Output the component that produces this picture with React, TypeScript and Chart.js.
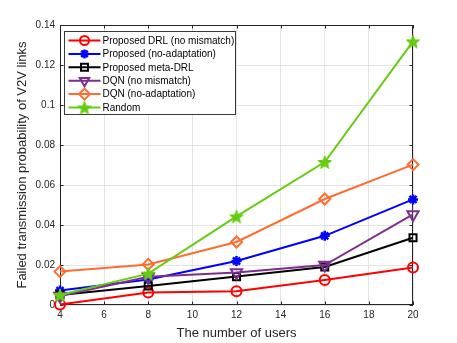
import React, { useEffect, useRef } from 'react';
import { Chart, registerables } from 'chart.js';

Chart.register(...registerables);

// ---------- data ----------
const users = [4, 8, 12, 16, 20];
const xTickLabels = ['4', '6', '8', '10', '12', '14', '16', '18', '20'];
const yTickLabels = ['0', '0.02', '0.04', '0.06', '0.08', '0.1', '0.12', '0.14'];

const proposedDRL = [0.0003, 0.0063, 0.0069, 0.0125, 0.0188];
const proposedNoAdapt = [0.0072, 0.0128, 0.0220, 0.0346, 0.0528];
const proposedMetaDRL = [0.0050, 0.0095, 0.0142, 0.0190, 0.0336];
const dqnNoMismatch = [0.0045, 0.0141, 0.0162, 0.0200, 0.0453];
const dqnNoAdapt = [0.0167, 0.0203, 0.0315, 0.0530, 0.0702];
const randomPolicy = [0.0050, 0.0157, 0.0443, 0.0715, 0.1318];

const seriesLabels = [
  'Proposed DRL (no mismatch)',
  'Proposed (no-adaptation)',
  'Proposed meta-DRL',
  'DQN (no mismatch)',
  'DQN (no-adaptation)',
  'Random',
];
const seriesValues = [proposedDRL, proposedNoAdapt, proposedMetaDRL, dqnNoMismatch, dqnNoAdapt, randomPolicy];

const xTitle = 'The number of users';
const yTitle = 'Failed transmission probability of V2V links';

// ---------- styles ----------
const seriesColors = ['#ff0000', '#0000ff', '#000000', '#7e2f8e', '#ff6d2e', '#66cc11'];
const seriesMarkers = ['circle', 'asterisk', 'square', 'triangleDown', 'diamond', 'pentagram'];
const FONT = "'Liberation Sans', Arial, Helvetica, sans-serif";
const AXIS_COLOR = '#262626';
const GRID_COLOR = '#e3e3e3';

function makePentagram(color: string, r: number): HTMLCanvasElement {
  const c = document.createElement('canvas');
  const s = Math.ceil(r * 2 + 2);
  c.width = s;
  c.height = s;
  const ctx = c.getContext('2d')!;
  ctx.translate(s / 2, s / 2 + 0.8);
  ctx.beginPath();
  for (let i = 0; i < 10; i++) {
    const rad = i % 2 === 0 ? r : r * 0.42;
    const a = -Math.PI / 2 + (i * Math.PI) / 5;
    ctx.lineTo(rad * Math.cos(a), rad * Math.sin(a));
  }
  ctx.closePath();
  ctx.fillStyle = color;
  ctx.fill();
  ctx.strokeStyle = color;
  ctx.lineWidth = 1;
  ctx.stroke();
  return c;
}

function drawMarker(ctx: CanvasRenderingContext2D, kind: string, x: number, y: number, color: string, star: HTMLCanvasElement) {
  ctx.save();
  ctx.strokeStyle = color;
  ctx.fillStyle = color;
  ctx.lineWidth = 2;
  ctx.beginPath();
  if (kind === 'circle') {
    ctx.arc(x, y, 4.5, 0, Math.PI * 2);
    ctx.stroke();
  } else if (kind === 'asterisk') {
    const r = 4.5;
    ctx.lineWidth = 2.5;
    for (let i = 0; i < 4; i++) {
      const a = (i * Math.PI) / 4;
      ctx.moveTo(x - r * Math.cos(a), y - r * Math.sin(a));
      ctx.lineTo(x + r * Math.cos(a), y + r * Math.sin(a));
    }
    ctx.stroke();
  } else if (kind === 'square') {
    ctx.rect(x - 3.5, y - 3.5, 7, 7);
    ctx.stroke();
  } else if (kind === 'triangleDown') {
    const r = 5.5;
    for (let i = 0; i < 3; i++) {
      const a = Math.PI / 2 + (i * 2 * Math.PI) / 3;
      ctx.lineTo(x + r * Math.cos(a), y + r * Math.sin(a));
    }
    ctx.closePath();
    ctx.stroke();
  } else if (kind === 'diamond') {
    const r = 5.5;
    ctx.moveTo(x, y - r);
    ctx.lineTo(x + r, y);
    ctx.lineTo(x, y + r);
    ctx.lineTo(x - r, y);
    ctx.closePath();
    ctx.stroke();
  } else if (kind === 'pentagram') {
    ctx.drawImage(star, x - star.width / 2, y - star.height / 2);
  }
  ctx.restore();
}

export default function App() {
  const canvasRef = useRef<HTMLCanvasElement | null>(null);

  useEffect(() => {
    const canvas = canvasRef.current;
    if (!canvas) return;
    const star = makePentagram(seriesColors[5], 7);

    const pointProps: Record<string, any> = {
      circle: { pointStyle: 'circle', pointRadius: 5, pointRotation: 0 },
      asterisk: { pointStyle: 'star', pointRadius: 5, pointRotation: 0 },
      square: { pointStyle: 'rect', pointRadius: 5, pointRotation: 0 },
      triangleDown: { pointStyle: 'triangle', pointRadius: 6.5, pointRotation: 180 },
      diamond: { pointStyle: 'rectRot', pointRadius: 5.5, pointRotation: 0 },
      pentagram: { pointStyle: star, pointRadius: 7, pointRotation: 0 },
    };

    const datasets = seriesValues.map((vals, i) => {
      const m = seriesMarkers[i];
      return {
        label: seriesLabels[i],
        data: users.map((u, j) => ({ x: u, y: vals[j] })),
        borderColor: seriesColors[i],
        backgroundColor: 'rgba(0,0,0,0)',
        pointBorderColor: seriesColors[i],
        pointBackgroundColor: 'rgba(0,0,0,0)',
        borderWidth: 2,
        pointBorderWidth: m === 'asterisk' ? 2.5 : 2,
        tension: 0,
        clip: false as any,
        order: seriesValues.length - i,
        ...pointProps[m],
      };
    });

    const framePlugin = {
      id: 'matlabFrame',
      beforeDatasetsDraw(chart: any) {
        const { ctx, chartArea: a, scales } = chart;
        ctx.save();
        ctx.strokeStyle = AXIS_COLOR;
        ctx.lineWidth = 1;
        ctx.strokeRect(a.left + 0.5, a.top + 0.5, a.right - a.left - 1, a.bottom - a.top - 1);
        const tl = 3.5;
        ctx.beginPath();
        scales.y.ticks.forEach((t: any) => {
          const py = Math.round(scales.y.getPixelForValue(t.value)) + 0.5;
          ctx.moveTo(a.left, py);
          ctx.lineTo(a.left + tl, py);
          ctx.moveTo(a.right, py);
          ctx.lineTo(a.right - tl, py);
        });
        scales.x.ticks.forEach((t: any) => {
          const px = Math.round(scales.x.getPixelForValue(t.value)) + 0.5;
          ctx.moveTo(px, a.bottom);
          ctx.lineTo(px, a.bottom - tl);
          ctx.moveTo(px, a.top);
          ctx.lineTo(px, a.top + tl);
        });
        ctx.stroke();
        ctx.restore();
      },
      afterDraw(chart: any) {
        const { ctx, chartArea: a } = chart;
        const bx = a.left + 4.5;
        const by = a.top + 6.5;
        const bw = 171;
        const bh = 83;
        ctx.save();
        ctx.fillStyle = '#ffffff';
        ctx.fillRect(bx, by, bw, bh);
        ctx.strokeStyle = '#3a3a3a';
        ctx.lineWidth = 1;
        ctx.strokeRect(bx, by, bw, bh);
        ctx.font = `10px ${FONT}`;
        ctx.textBaseline = 'middle';
        ctx.textAlign = 'left';
        seriesLabels.forEach((lab, i) => {
          const ry = by + 9 + i * 13.4;
          const x0 = bx + 4;
          const x1 = bx + 36;
          ctx.strokeStyle = seriesColors[i];
          ctx.lineWidth = 2;
          ctx.beginPath();
          ctx.moveTo(x0, ry);
          ctx.lineTo(x1, ry);
          ctx.stroke();
          drawMarker(ctx, seriesMarkers[i], (x0 + x1) / 2, ry, seriesColors[i], star);
          ctx.fillStyle = '#000000';
          ctx.fillText(lab, x1 + 2, ry + 0.5);
        });
        ctx.restore();
      },
    };

    const chart = new Chart(canvas, {
      type: 'line',
      data: { datasets },
      options: {
        animation: false,
        responsive: false,
        devicePixelRatio: 1,
        layout: { padding: { top: 25, right: 44, bottom: 0, left: 0 } },
        plugins: { legend: { display: false }, tooltip: { enabled: false } },
        scales: {
          x: {
            type: 'linear',
            min: 4,
            max: 20,
            afterFit: (s: any) => { s.height = 38; },
            ticks: {
              stepSize: 2,
              padding: 4,
              color: AXIS_COLOR,
              font: { family: FONT, size: 10 },
              maxRotation: 0,
              callback: (_v: any, idx: number) => xTickLabels[idx],
            },
            grid: { color: GRID_COLOR, drawTicks: false, lineWidth: 1 },
            border: { display: false },
            title: {
              display: true,
              text: xTitle,
              color: AXIS_COLOR,
              font: { family: FONT, size: 13 },
              padding: { top: 0, bottom: 2 },
            },
          },
          y: {
            type: 'linear',
            min: 0,
            max: 0.14,
            afterFit: (s: any) => { s.width = 60; },
            ticks: {
              stepSize: 0.02,
              padding: 5,
              color: AXIS_COLOR,
              font: { family: FONT, size: 10 },
              callback: (_v: any, idx: number) => yTickLabels[idx],
            },
            grid: { color: GRID_COLOR, drawTicks: false, lineWidth: 1 },
            border: { display: false },
            title: {
              display: true,
              text: yTitle,
              color: AXIS_COLOR,
              font: { family: FONT, size: 13 },
              padding: { top: 15, bottom: 0 },
            },
          },
        },
      },
      plugins: [framePlugin],
    });

    return () => chart.destroy();
  }, []);

  return (
    <div style={{ position: 'fixed', left: 0, top: 0, width: 457, height: 343, background: '#ffffff' }}>
      <canvas ref={canvasRef} width={457} height={343} style={{ display: 'block' }} />
    </div>
  );
}
